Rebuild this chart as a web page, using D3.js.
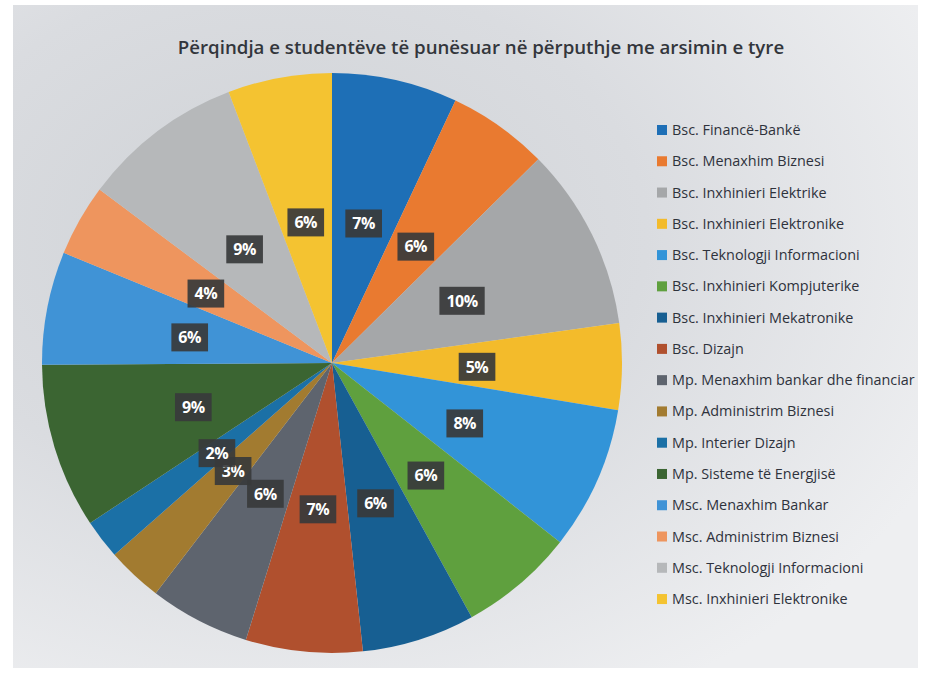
<!DOCTYPE html>
<html><head><meta charset="utf-8">
<script src="https://cdn.jsdelivr.net/npm/d3@7"></script>
<style>html,body{margin:0;padding:0;background:#fff;}svg{display:block;}</style>
</head><body>
<svg id="chart" width="930" height="675"></svg>
<script>
const title = "Përqindja e studentëve të punësuar në përputhje me arsimin e tyre";
const categories = [
  "Bsc. Financë-Bankë","Bsc. Menaxhim Biznesi","Bsc. Inxhinieri Elektrike","Bsc. Inxhinieri Elektronike",
  "Bsc. Teknologji Informacioni","Bsc. Inxhinieri Kompjuterike","Bsc. Inxhinieri Mekatronike","Bsc. Dizajn",
  "Mp. Menaxhim bankar dhe financiar","Mp. Administrim Biznesi","Mp. Interier Dizajn","Mp. Sisteme të Energjisë",
  "Msc. Menaxhim Bankar","Msc. Administrim Biznesi","Msc. Teknologji Informacioni","Msc. Inxhinieri Elektronike"
];
const values = [7.0, 5.6, 10.2, 4.8, 8.0, 6.4, 6.3, 6.5, 5.6, 3.1, 2.2, 9.2, 6.3, 4.0, 9.0, 5.8];
const colors = ["#1e6fb6","#e97a30","#a5a7a9","#f3bb2b","#3294d8","#5fa03e","#175f92","#b0502e",
  "#5e646e","#a27b30","#1b70a6","#3b6532","#4093d6","#ee955e","#b6b8ba","#f4c331"];

const svg = d3.select("#chart");
const defs = svg.append("defs");
const bg = defs.append("radialGradient").attr("id","bg").attr("cx","0.3").attr("cy","0.35").attr("r","0.8");
bg.append("stop").attr("offset","0").attr("stop-color","#cfd2d6");
bg.append("stop").attr("offset","0.5").attr("stop-color","#dadce0");
bg.append("stop").attr("offset","1").attr("stop-color","#eeeff1");
svg.append("rect").attr("x",13).attr("y",5).attr("width",905).attr("height",663).attr("fill","url(#bg)");

// title
const t = svg.append("text").attr("x",481).attr("y",54).attr("text-anchor","middle")
  .attr("font-family","'Open Sans', sans-serif").attr("font-weight",600).attr("font-size",20)
  .attr("fill","#33363c").text(title);
const tw = t.node().getComputedTextLength();
t.attr("font-size", 20*607/tw);

// pie
const cx = 332, cy = 363, R = 290;
const pie = d3.pie().sort(null).value(d => d.v);
const data = pie(categories.map((c,i)=>({c, v: values[i], col: colors[i]})));
const total = d3.sum(values);
const arc = d3.arc().innerRadius(0).outerRadius(R);
const labelArc = d3.arc().innerRadius(R*0.5).outerRadius(R*0.5);
const g = svg.append("g").attr("transform",`translate(${cx},${cy})`);
g.selectAll("path").data(data).join("path").attr("d",arc).attr("fill",d=>d.data.col);

const fmt = d3.format(".0%");
const lg = g.selectAll("g.lab").data(data).join("g").attr("class","lab")
  .attr("transform", d => { const c = labelArc.centroid(d); return `translate(${c[0]},${c[1]+2})`; });
lg.append("text").attr("text-anchor","middle").attr("dy","0.36em")
  .attr("font-family","'Open Sans', sans-serif").attr("font-weight","bold").attr("font-size",16)
  .attr("letter-spacing",-0.5).attr("fill","#fff").text(d => fmt(d.data.v/total));
lg.each(function(){
  const gg = d3.select(this);
  const bb = gg.select("text").node().getBBox();
  gg.insert("rect","text").attr("x",bb.x-7).attr("y",-14).attr("width",bb.width+14).attr("height",28)
    .attr("fill","#38393b").attr("fill-opacity",0.92);
});

// legend
const lx = 657, ly0 = 130, dy = 31.27;
const leg = svg.append("g");
const items = leg.selectAll("g").data(categories).join("g")
  .attr("transform",(d,i)=>`translate(${lx},${ly0 + i*dy})`);
items.append("rect").attr("x",0).attr("y",-5).attr("width",10).attr("height",10).attr("fill",(d,i)=>colors[i]);
const lt = items.append("text").attr("x",15).attr("y",0).attr("dy","0.35em")
  .attr("font-family","'Open Sans', sans-serif").attr("font-size",13).attr("fill","#2e323c").text(d=>d);
const longest = lt.nodes()[8].getComputedTextLength();
lt.attr("font-size", 13*243/longest);
</script>
</body></html>
